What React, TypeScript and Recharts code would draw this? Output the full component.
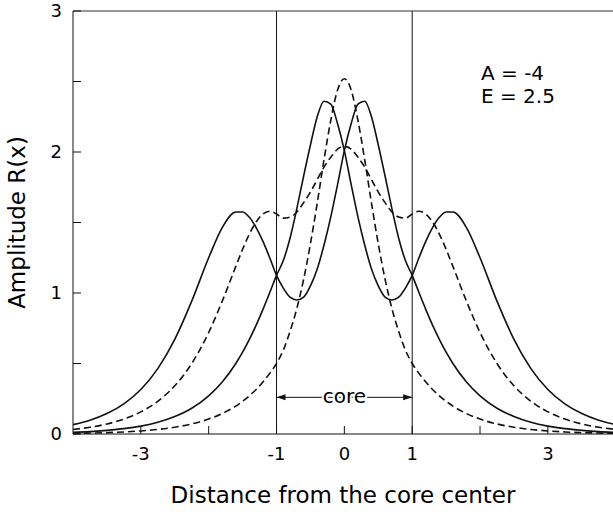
import { LineChart, Line, XAxis, YAxis, ReferenceLine } from "recharts";

// positions along the guide (core spans -1..1)
const xs = [
  -4, -3.75, -3.5, -3.25, -3, -2.75, -2.5, -2.25, -2, -1.8, -1.6, -1.5, -1.4,
  -1.3, -1.2, -1.1, -1, -0.9, -0.8, -0.7, -0.6, -0.5, -0.4, -0.3, -0.2, -0.1,
  0, 0.1, 0.2, 0.3, 0.4, 0.5, 0.6, 0.7, 0.8, 0.9, 1, 1.1, 1.2, 1.3, 1.4, 1.5,
  1.6, 1.8, 2, 2.25, 2.5, 2.75, 3, 3.25, 3.5, 3.75, 4,
];

// asymmetric mode, big peak right of centre (solid)
const asymRight = [
  0.066, 0.098, 0.145, 0.214, 0.316, 0.464, 0.671, 0.942, 1.25, 1.464, 1.575,
  1.575, 1.537, 1.464, 1.366, 1.25, 1.125, 1.035, 0.97, 0.95, 0.97, 1.05, 1.17,
  1.34, 1.54, 1.77, 2.01, 2.2, 2.34, 2.36, 2.25, 2.05, 1.83, 1.6, 1.39, 1.23,
  1.125, 1.003, 0.884, 0.772, 0.671, 0.58, 0.5, 0.369, 0.271, 0.183, 0.124,
  0.083, 0.056, 0.038, 0.026, 0.017, 0.012,
];

// asymmetric mode, big peak left of centre (solid)
const asymLeft = [
  0.012, 0.017, 0.026, 0.038, 0.056, 0.083, 0.124, 0.183, 0.271, 0.369, 0.5,
  0.58, 0.671, 0.772, 0.884, 1.003, 1.125, 1.23, 1.39, 1.6, 1.83, 2.05, 2.25,
  2.36, 2.34, 2.2, 2.01, 1.77, 1.54, 1.34, 1.17, 1.05, 0.97, 0.95, 0.97, 1.035,
  1.125, 1.25, 1.366, 1.464, 1.537, 1.575, 1.575, 1.464, 1.25, 0.942, 0.671,
  0.464, 0.316, 0.214, 0.145, 0.098, 0.066,
];

// symmetric wide mode (dashed)
const symWide = [
  0.032, 0.048, 0.071, 0.106, 0.157, 0.232, 0.342, 0.5, 0.72, 0.942, 1.189,
  1.31, 1.418, 1.504, 1.56, 1.58, 1.56, 1.531, 1.539, 1.575, 1.641, 1.716,
  1.804, 1.893, 1.963, 2.02, 2.04, 2.02, 1.963, 1.893, 1.804, 1.716, 1.641,
  1.575, 1.539, 1.531, 1.56, 1.58, 1.56, 1.504, 1.418, 1.31, 1.189, 0.942,
  0.72, 0.5, 0.342, 0.232, 0.157, 0.106, 0.071, 0.048, 0.032,
];

// symmetric narrow mode (dashed)
const symNarrow = [
  0.0045, 0.0067, 0.0099, 0.0147, 0.0218, 0.0323, 0.048, 0.0712, 0.106, 0.145,
  0.198, 0.232, 0.271, 0.316, 0.369, 0.43, 0.5, 0.595, 0.729, 0.891, 1.098,
  1.349, 1.637, 1.945, 2.225, 2.44, 2.52, 2.44, 2.225, 1.945, 1.637, 1.349,
  1.098, 0.891, 0.729, 0.595, 0.5, 0.43, 0.369, 0.316, 0.271, 0.232, 0.198,
  0.145, 0.106, 0.0712, 0.048, 0.0323, 0.0218, 0.0147, 0.0099, 0.0067, 0.0045,
];

const xTicks = [-3, -2, -1, 0, 1, 2, 3];
const yTicks = [0, 0.5, 1, 1.5, 2, 2.5, 3];
const xTickLabels: Record<number, string> = { [-3]: "-3", [-1]: "-1", 0: "0", 1: "1", 3: "3" };

const FONT = "'DejaVu Sans', sans-serif";
const INK = "#111";

const data = xs.map((x, i) => ({
  x,
  asymRight: asymRight[i],
  asymLeft: asymLeft[i],
  symWide: symWide[i],
  symNarrow: symNarrow[i],
}));

// double-headed arrow with the "core" label in the middle
function CoreArrow(props: any) {
  const { x1, y1, x2, y2 } = props;
  const mx = (x1 + x2) / 2;
  const my = (y1 + y2) / 2;
  return (
    <g>
      <line x1={x1} y1={y1} x2={x2} y2={y2} stroke={INK} strokeWidth={1} />
      <path d={`M${x1},${y1} L${x1 + 9},${y1 - 3} L${x1 + 9},${y1 + 3} Z`} fill={INK} />
      <path d={`M${x2},${y2} L${x2 - 9},${y2 - 3} L${x2 - 9},${y2 + 3} Z`} fill={INK} />
      <text
        x={mx}
        y={my}
        dy="0.3em"
        textAnchor="middle"
        fontSize={20}
        fontFamily={FONT}
        fill="#000"
        stroke="#fff"
        strokeWidth={4}
        paintOrder="stroke"
      >
        core
      </text>
    </g>
  );
}

export default function App() {
  const tickStyle = { fontSize: 18, fill: "#000", fontFamily: FONT };
  return (
    <div style={{ position: "absolute", left: 0, top: 0, width: 613, height: 512, background: "#fff" }}>
      <LineChart width={613} height={512} data={data} margin={{ top: 11, right: 0, bottom: 0, left: 0 }}>
        <XAxis
          dataKey="x"
          type="number"
          domain={[-4, 3.96]}
          allowDataOverflow
          ticks={xTicks}
          interval={0}
          tickFormatter={(v) => xTickLabels[v] ?? ""}
          tick={tickStyle}
          tickSize={-8}
          tickMargin={21}
          height={78}
          axisLine={{ stroke: INK }}
          tickLine={{ stroke: INK }}
          label={{
            value: "Distance from the core center",
            position: "insideBottom",
            offset: 9,
            style: { fontSize: 23, fill: "#000", fontFamily: FONT },
          }}
        />
        <YAxis
          type="number"
          domain={[0, 3]}
          ticks={yTicks}
          interval={0}
          tickFormatter={(v) => (Number.isInteger(v) ? String(v) : "")}
          tick={tickStyle}
          tickSize={-8}
          tickMargin={19}
          width={73}
          axisLine={{ stroke: INK }}
          tickLine={{ stroke: INK }}
          label={{
            value: "Amplitude R(x)",
            angle: -90,
            position: "insideLeft",
            offset: 17,
            style: { fontSize: 23, fill: "#000", fontFamily: FONT, textAnchor: "middle" },
          }}
        />

        {/* frame top and core boundaries */}
        <ReferenceLine y={3} stroke="#333" strokeWidth={1} />
        <ReferenceLine x={-1} stroke={INK} strokeWidth={1} />
        <ReferenceLine x={1} stroke={INK} strokeWidth={1} />
        <ReferenceLine
          segment={[{ x: -1, y: 0.26 }, { x: 1, y: 0.26 }]}
          shape={CoreArrow}
        />

        <Line type="monotone" dataKey="symNarrow" stroke={INK} strokeWidth={1.6} strokeDasharray="7 4" dot={false} activeDot={false} isAnimationActive={false} />
        <Line type="monotone" dataKey="symWide" stroke={INK} strokeWidth={1.6} strokeDasharray="7 4" dot={false} activeDot={false} isAnimationActive={false} />
        <Line type="monotone" dataKey="asymLeft" stroke={INK} strokeWidth={1.6} dot={false} activeDot={false} isAnimationActive={false} />
        <Line type="monotone" dataKey="asymRight" stroke={INK} strokeWidth={1.6} dot={false} activeDot={false} isAnimationActive={false} />
      </LineChart>
      <div
        style={{
          position: "absolute",
          left: 481,
          top: 62,
          fontFamily: FONT,
          fontSize: 20,
          lineHeight: "23px",
          color: "#000",
        }}
      >
        <div>A = -4</div>
        <div>E = 2.5</div>
      </div>
    </div>
  );
}
